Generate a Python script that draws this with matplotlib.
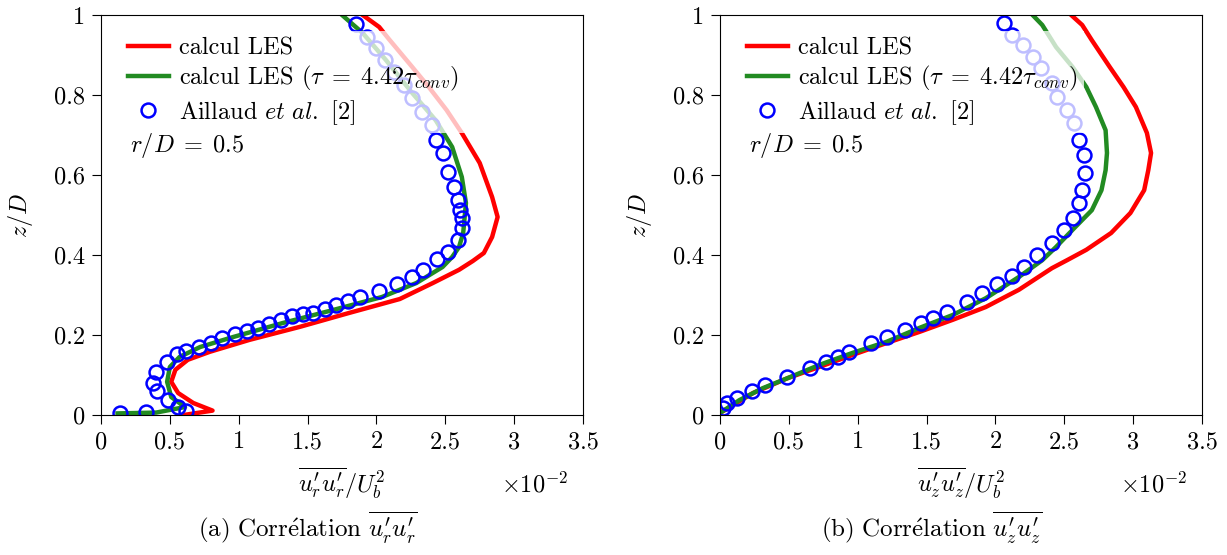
import numpy as np
import matplotlib.pyplot as plt

plt.rcParams['font.family'] = 'serif'
plt.rcParams['font.serif'] = ['cmr10', 'DejaVu Serif']
plt.rcParams['mathtext.fontset'] = 'cm'
plt.rcParams['axes.unicode_minus'] = False

# values, x in units of 1e-2
xticks = [0, 0.5, 1, 1.5, 2, 2.5, 3, 3.5]
xticklabels = ['0', '0.5', '1', '1.5', '2', '2.5', '3', '3.5']
yticks = [0, 0.2, 0.4, 0.6, 0.8, 1]
yticklabels = ['0', '0.2', '0.4', '0.6', '0.8', '1']

# (a) u'r u'r
les_a_x = [0.60, 0.81, 0.67, 0.56, 0.51, 0.54, 0.63, 0.79, 1.08, 1.44, 1.80, 2.17, 2.41,
           2.60, 2.70, 2.78, 2.84, 2.88, 2.84, 2.75, 2.62, 2.51, 2.38, 2.26, 2.09, 2.02, 1.90]
les_a_z = [0.0, 0.011, 0.03, 0.055, 0.083, 0.113, 0.138, 0.158, 0.188, 0.22, 0.255, 0.29, 0.33,
           0.363, 0.385, 0.405, 0.445, 0.495, 0.545, 0.63, 0.705, 0.762, 0.82, 0.87, 0.94,
           0.97, 1.0]
tau_a_x = [0.12, 0.40, 0.61, 0.51, 0.48, 0.50, 0.57, 0.72, 0.96, 1.32, 1.68, 2.04, 2.29,
           2.48, 2.55, 2.60, 2.63, 2.65, 2.62, 2.55, 2.43, 2.26, 2.07, 1.90, 1.75]
tau_a_z = [0.004, 0.006, 0.02, 0.045, 0.083, 0.12, 0.145, 0.17, 0.195, 0.23, 0.262, 0.295,
           0.33, 0.37, 0.395, 0.42, 0.455, 0.53, 0.595, 0.67, 0.737, 0.805, 0.887, 0.955, 1.0]
exp_a_x = [0.14, 0.33, 0.62, 0.56, 0.49, 0.41, 0.38, 0.40, 0.48, 0.55, 0.62, 0.71, 0.80, 0.88,
           0.97, 1.06, 1.14, 1.22, 1.31, 1.39, 1.47, 1.54, 1.63, 1.71, 1.79, 1.88, 2.02, 2.15,
           2.26, 2.34, 2.44, 2.52, 2.59, 2.62, 2.62, 2.61, 2.59, 2.56, 2.52, 2.48, 2.43, 2.40,
           2.33, 2.26, 2.20, 2.13, 2.06, 2.00, 1.93, 1.85]
exp_a_z = [0.004, 0.008, 0.011, 0.02, 0.037, 0.06, 0.08, 0.108, 0.133, 0.152, 0.16, 0.17, 0.18,
           0.192, 0.202, 0.21, 0.218, 0.228, 0.238, 0.248, 0.252, 0.255, 0.265, 0.275, 0.285,
           0.295, 0.31, 0.328, 0.345, 0.363, 0.39, 0.408, 0.438, 0.467, 0.493, 0.513, 0.538,
           0.57, 0.607, 0.655, 0.687, 0.725, 0.757, 0.792, 0.825, 0.857, 0.887, 0.918, 0.945,
           0.978]

# (b) u'z u'z
les_b_x = [0.0, 0.24, 0.49, 0.72, 0.96, 1.21, 1.45, 1.69, 1.93, 2.17, 2.41, 2.52, 2.66, 2.84,
           2.98, 3.08, 3.11, 3.13, 3.10, 3.02, 2.93, 2.83, 2.70, 2.63, 2.55]
les_b_z = [0.005, 0.055, 0.092, 0.12, 0.15, 0.18, 0.208, 0.238, 0.27, 0.313, 0.367, 0.387,
           0.413, 0.455, 0.505, 0.562, 0.612, 0.655, 0.705, 0.77, 0.82, 0.87, 0.937, 0.975, 1.0]
tau_b_x = [0.0, 0.14, 0.31, 0.49, 0.72, 0.96, 1.21, 1.45, 1.69, 1.93, 2.17, 2.34, 2.44, 2.58,
           2.70, 2.77, 2.80, 2.81, 2.80, 2.73, 2.66, 2.56, 2.44, 2.34, 2.27]
tau_b_z = [0.005, 0.037, 0.067, 0.092, 0.125, 0.155, 0.183, 0.218, 0.25, 0.292, 0.345, 0.387,
           0.42, 0.47, 0.512, 0.562, 0.612, 0.655, 0.712, 0.77, 0.82, 0.87, 0.92, 0.975, 1.0]
exp_b_x = [0.02, 0.05, 0.12, 0.23, 0.33, 0.49, 0.65, 0.77, 0.86, 0.94, 1.10, 1.21, 1.34, 1.46,
           1.55, 1.65, 1.79, 1.90, 2.01, 2.12, 2.21, 2.30, 2.41, 2.50, 2.56, 2.61, 2.63, 2.65,
           2.64, 2.61, 2.57, 2.52, 2.45, 2.41, 2.33, 2.27, 2.20, 2.12, 2.06]
exp_b_z = [0.017, 0.03, 0.042, 0.06, 0.075, 0.095, 0.118, 0.133, 0.145, 0.158, 0.18, 0.195,
           0.213, 0.23, 0.243, 0.258, 0.283, 0.305, 0.328, 0.348, 0.37, 0.40, 0.43, 0.462,
           0.492, 0.53, 0.562, 0.605, 0.65, 0.687, 0.73, 0.762, 0.795, 0.83, 0.867, 0.895,
           0.925, 0.95, 0.98]

panels = [
    (les_a_x, les_a_z, tau_a_x, tau_a_z, exp_a_x, exp_a_z,
     r"$\overline{u_r^{\prime} u_r^{\prime}}/U_b^2$",
     r"$\mathrm{(a)\ Corr\acute{e}lation}\ \overline{u_r^{\prime} u_r^{\prime}}$"),
    (les_b_x, les_b_z, tau_b_x, tau_b_z, exp_b_x, exp_b_z,
     r"$\overline{u_z^{\prime} u_z^{\prime}}/U_b^2$",
     r"$\mathrm{(b)\ Corr\acute{e}lation}\ \overline{u_z^{\prime} u_z^{\prime}}$"),
]

fs = 17.5
fig = plt.figure(figsize=(12.27, 5.55), dpi=100)
lefts = [101 / 1227, 720 / 1227]
caption_x = [308 / 1227, 932 / 1227]

for i, p in enumerate(panels):
    lx, lz, tx, tz, ex, ez, xlab, cap = p
    ax = fig.add_axes([lefts[i], 140 / 555, 482 / 1227, 400 / 555])
    ax.plot(lx, lz, color='red', lw=3.2, label='calcul LES')
    ax.plot(tx, tz, color='forestgreen', lw=3.2,
            label=r'calcul LES ($\tau\;=\;4.42\tau_{conv}$)')
    ax.plot(ex, ez, 'o', mfc='none', mec='blue', mew=1.8, ms=10,
            label=r'Aillaud $\mathit{et\ al.}$ [2]')
    ax.set_xlim(0, 3.5)
    ax.set_ylim(0, 1)
    ax.set_xticks(xticks, labels=xticklabels)
    ax.set_yticks(yticks, labels=yticklabels)
    ax.tick_params(direction='out', length=6.5, width=0.8, labelsize=fs, pad=5)
    ax.set_xlabel(xlab, fontsize=fs, va='center')
    ax.xaxis.set_label_coords(0.5, -0.172)
    ax.set_ylabel(r'$z/D$', fontsize=fs, va='center')
    ax.yaxis.set_label_coords(-0.168, 0.5)
    ax.legend(loc='upper left', bbox_to_anchor=(0.043, 0.96), fontsize=fs,
              framealpha=0.75, facecolor='white', edgecolor='none',
              handlelength=1.7, handletextpad=0.4, borderaxespad=0.0,
              labelspacing=0.2, borderpad=0.25, fancybox=False)
    ax.text(0.06, 0.675, r'$r/D\;=\;0.5$', transform=ax.transAxes, fontsize=fs,
            va='center', zorder=6)
    ax.text(1 - 48 / 482, -0.175, r'$\times 10^{-2}$', transform=ax.transAxes,
            fontsize=fs, ha='center', va='center')
    fig.text(caption_x[i], (555 - 528) / 555, cap, fontsize=18, ha='center', va='center')

fig.savefig('out.png', dpi=100)
